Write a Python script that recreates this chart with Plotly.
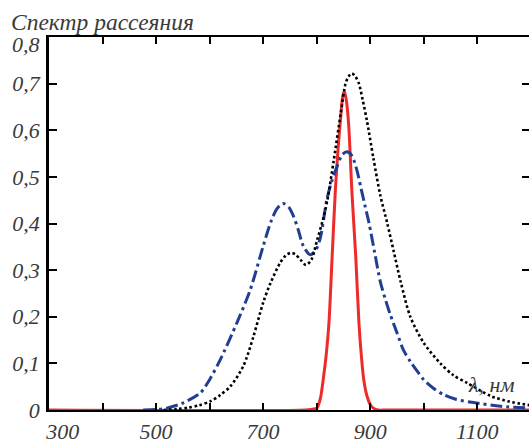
import plotly.graph_objects as go

# ---- data ----
wl_red = [300, 780, 795, 801, 807, 813, 818, 823, 829, 835, 840, 845, 849, 852, 856, 860,
          866, 873, 879, 884, 888, 894, 900, 906, 915, 930, 1200]
red = [0, 0, 0.002, 0.005, 0.025, 0.072, 0.12, 0.187, 0.33, 0.472, 0.56, 0.63, 0.675, 0.683,
       0.66, 0.608, 0.465, 0.33, 0.187, 0.11, 0.065, 0.03, 0.012, 0.004, 0, 0, 0]

wl_blue = [476, 500, 520, 550, 583, 600, 620, 651, 676, 700, 715, 726, 737, 748, 757, 766,
           775, 788, 798, 807, 819, 828, 838, 848, 857, 866, 875, 882, 890, 898, 908, 919,
           929, 938, 950, 962, 975, 990, 1000, 1020, 1037, 1060, 1093, 1144, 1200]
blue = [0, 0.001, 0.004, 0.015, 0.037, 0.065, 0.108, 0.187, 0.258, 0.351, 0.405, 0.432,
        0.443, 0.435, 0.415, 0.385, 0.352, 0.333, 0.342, 0.37, 0.451, 0.49, 0.522, 0.548,
        0.554, 0.545, 0.515, 0.48, 0.44, 0.40, 0.34, 0.275, 0.235, 0.203, 0.166, 0.129,
        0.104, 0.08, 0.065, 0.045, 0.033, 0.023, 0.016, 0.008, 0.004]

wl_black = [514, 540, 560, 580, 602, 620, 639, 663, 682, 700, 714, 732, 742, 751, 760, 770,
            780, 790, 801, 811, 820, 832, 845, 854, 860, 866, 872, 879, 886, 894, 906, 919,
            932, 944, 957, 975, 1000, 1031, 1055, 1081, 1125, 1160, 1200]
black = [0, 0.002, 0.005, 0.01, 0.019, 0.032, 0.051, 0.094, 0.158, 0.23, 0.273, 0.316,
         0.331, 0.337, 0.334, 0.322, 0.311, 0.322, 0.365, 0.405, 0.45, 0.536, 0.636, 0.70,
         0.716, 0.722, 0.716, 0.70, 0.665, 0.62, 0.54, 0.46, 0.40, 0.34, 0.275, 0.20, 0.144,
         0.10, 0.075, 0.058, 0.03, 0.018, 0.01]

x_tickvals = [300, 400, 500, 600, 700, 800, 900, 1000, 1100]
x_ticktext = ["\u00a0" * 5 + "300", "", "500", "", "700", "", "900", "", "1100"]
y_tickvals = [0, 0.1, 0.2, 0.3, 0.4, 0.5, 0.6, 0.7]
y_ticktext = ["0", "0,1", "0,2", "0,3", "0,4", "0,5", "0,6", "0,7"]
y_top_label = "0,8"
title_text = "Спектр рассеяния"
axis_text = "λ, нм"

FONT = "Liberation Serif, Times New Roman, serif"
TXT = "#3a3a3a"
FS = 22

fig = go.Figure()
fig.add_trace(go.Scatter(x=wl_red, y=red, mode="lines",
                         line=dict(color="#ee2b2b", width=3, shape="spline", smoothing=0.8),
                         hoverinfo="skip", showlegend=False))
fig.add_trace(go.Scatter(x=wl_blue, y=blue, mode="lines",
                         line=dict(color="#213e93", width=3, shape="spline", smoothing=0.8,
                                   dash="12px,4px,3px,4px"),
                         hoverinfo="skip", showlegend=False))
fig.add_trace(go.Scatter(x=wl_black, y=black, mode="lines",
                         line=dict(color="#000000", width=2.6, shape="spline", smoothing=0.8,
                                   dash="2.6px,2.6px"),
                         hoverinfo="skip", showlegend=False))
# empty trace so the right-hand tick axis exists
fig.add_trace(go.Scatter(x=[None], y=[None], yaxis="y2", mode="lines",
                         hoverinfo="skip", showlegend=False))

tf = dict(family=FONT, size=FS, color=TXT, style="italic")
fig.update_layout(
    width=529, height=439,
    margin=dict(l=49, r=0, t=37, b=29, autoexpand=False),
    paper_bgcolor="white", plot_bgcolor="white",
    font=tf,
    xaxis=dict(range=[300, 1196.7], tickvals=x_tickvals, ticktext=x_ticktext,
               ticks="inside", ticklen=7, tickwidth=1.5, tickcolor="black",
               showline=True, linecolor="black", linewidth=2, mirror="ticks",
               showgrid=False, zeroline=False, ticklabelstandoff=1, tickfont=tf,
               automargin=False),
    yaxis=dict(range=[0, 0.8], tickvals=y_tickvals, ticktext=y_ticktext,
               ticks="inside", ticklen=8, tickwidth=1.5, tickcolor="black",
               showline=True, linecolor="black", linewidth=2.5,
               showgrid=False, zeroline=False, ticklabelstandoff=2, tickfont=tf,
               automargin=False),
    yaxis2=dict(range=[0, 0.8], overlaying="y", side="right",
                tickvals=y_tickvals[1:], ticks="inside", ticklen=7, tickwidth=1.5,
                tickcolor="black", showticklabels=False, showline=False,
                showgrid=False, zeroline=False, automargin=False),
    annotations=[
        dict(text=title_text, xref="paper", yref="paper", x=0, y=1, xanchor="left",
             yanchor="bottom", xshift=-40, yshift=0, showarrow=False,
             font=dict(family=FONT, size=23.5, color=TXT, style="italic")),
        dict(text=y_top_label, xref="paper", yref="y", x=0, y=0.8, xanchor="right",
             yanchor="middle", xshift=-7, yshift=-7, showarrow=False, font=tf),
        dict(text=axis_text, xref="x", yref="y", x=1126, y=0.054, xanchor="center",
             yanchor="middle", showarrow=False, font=tf),
    ],
)

fig.write_html("out.html", config={"displayModeBar": False},
               post_script="document.body.style.margin='0px';")
